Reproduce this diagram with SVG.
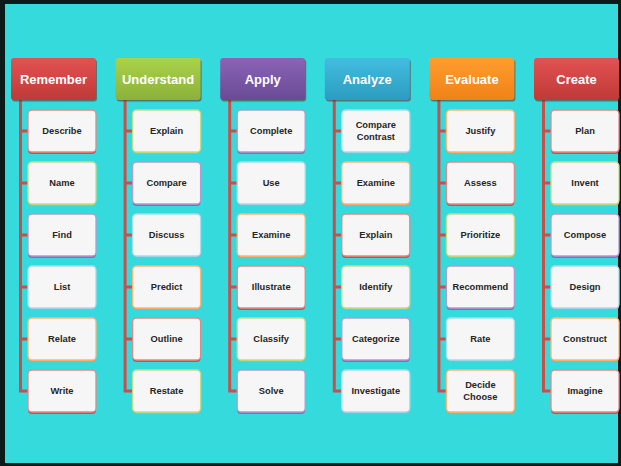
<svg xmlns="http://www.w3.org/2000/svg" width="621" height="466" viewBox="0 0 621 466">
<defs>
<linearGradient id="gRed" x1="0" y1="0" x2="0" y2="1"><stop offset="0" stop-color="#e25252"/><stop offset="1" stop-color="#bf3a37"/></linearGradient>
<linearGradient id="gGreen" x1="0" y1="0" x2="0" y2="1"><stop offset="0" stop-color="#a9d24a"/><stop offset="1" stop-color="#8cb13a"/></linearGradient>
<linearGradient id="gPurple" x1="0" y1="0" x2="0" y2="1"><stop offset="0" stop-color="#8a64b6"/><stop offset="1" stop-color="#6a4a95"/></linearGradient>
<linearGradient id="gBlue" x1="0" y1="0" x2="0" y2="1"><stop offset="0" stop-color="#42bde0"/><stop offset="1" stop-color="#2c9cbf"/></linearGradient>
<linearGradient id="gOrange" x1="0" y1="0" x2="0" y2="1"><stop offset="0" stop-color="#ff9d30"/><stop offset="1" stop-color="#ef8215"/></linearGradient>
</defs>
<style>
.hd .sh{fill:#5a2a20;opacity:0.55}
.hd text{font-family:"Liberation Sans",Arial,sans-serif;font-weight:bold;font-size:13px;fill:#ffffff;text-anchor:middle}
.bx .bg{fill:#f6f6f6;stroke-width:1.3}
.bx text{font-family:"Liberation Sans",Arial,sans-serif;font-weight:bold;font-size:9.3px;fill:#262626;text-anchor:middle}
.red .sh{fill:#c9504c}.red .bg{stroke:#e08a88}
.green .sh{fill:#a6c463}.green .bg{stroke:#c3dc8c}
.purple .sh{fill:#8c6cb0}.purple .bg{stroke:#b39ad2}
.blue .sh{fill:#78bfd6}.blue .bg{stroke:#a9dbea}
.orange .sh{fill:#f7964a}.orange .bg{stroke:#fbb678}
.conn path{fill:none;stroke:#c8504b;stroke-width:3}
</style>
<rect x="0" y="0" width="621" height="466" fill="#0d1a1a"/>
<rect x="5" y="4" width="613" height="459" fill="#35dbdc"/>

<g class="conn">
<path d="M20.5 100 V391 H28 M20.5 131 H28 M20.5 183 H28 M20.5 235 H28 M20.5 287 H28 M20.5 339 H28"/>
<path d="M125.1 100 V391 H132.6 M125.1 131 H132.6 M125.1 183 H132.6 M125.1 235 H132.6 M125.1 287 H132.6 M125.1 339 H132.6"/>
<path d="M229.7 100 V391 H237.2 M229.7 131 H237.2 M229.7 183 H237.2 M229.7 235 H237.2 M229.7 287 H237.2 M229.7 339 H237.2"/>
<path d="M334.3 100 V391 H341.8 M334.3 131 H341.8 M334.3 183 H341.8 M334.3 235 H341.8 M334.3 287 H341.8 M334.3 339 H341.8"/>
<path d="M438.9 100 V391 H446.4 M438.9 131 H446.4 M438.9 183 H446.4 M438.9 235 H446.4 M438.9 287 H446.4 M438.9 339 H446.4"/>
<path d="M543.5 100 V391 H551 M543.5 131 H551 M543.5 183 H551 M543.5 235 H551 M543.5 287 H551 M543.5 339 H551"/>
</g>

<g id="h-remember" class="hd"><rect class="sh" x="12" y="59.5" width="85" height="42" rx="3"/><rect x="11" y="58" width="85" height="42" rx="3" fill="url(#gRed)"/><text x="53.5" y="83.5">Remember</text></g>
<g id="h-understand" class="hd"><rect class="sh" x="116.6" y="59.5" width="85" height="42" rx="3"/><rect x="115.6" y="58" width="85" height="42" rx="3" fill="url(#gGreen)"/><text x="158.1" y="83.5">Understand</text></g>
<g id="h-apply" class="hd"><rect class="sh" x="221.2" y="59.5" width="85" height="42" rx="3"/><rect x="220.2" y="58" width="85" height="42" rx="3" fill="url(#gPurple)"/><text x="262.7" y="83.5">Apply</text></g>
<g id="h-analyze" class="hd"><rect class="sh" x="325.8" y="59.5" width="85" height="42" rx="3"/><rect x="324.8" y="58" width="85" height="42" rx="3" fill="url(#gBlue)"/><text x="367.3" y="83.5">Analyze</text></g>
<g id="h-evaluate" class="hd"><rect class="sh" x="430.4" y="59.5" width="85" height="42" rx="3"/><rect x="429.4" y="58" width="85" height="42" rx="3" fill="url(#gOrange)"/><text x="471.9" y="83.5">Evaluate</text></g>
<g id="h-create" class="hd"><rect class="sh" x="535" y="59.5" width="85" height="42" rx="3"/><rect x="534" y="58" width="85" height="42" rx="3" fill="url(#gRed)"/><text x="576.5" y="83.5">Create</text></g>

<!-- Remember column -->
<g id="n-describe" class="bx red"><rect class="sh" x="28" y="112" width="68" height="42" rx="4"/><rect class="bg" x="28" y="110" width="68" height="42" rx="4"/><text x="62" y="134.3">Describe</text></g>
<g id="n-name" class="bx green"><rect class="sh" x="28" y="164" width="68" height="42" rx="4"/><rect class="bg" x="28" y="162" width="68" height="42" rx="4"/><text x="62" y="186.3">Name</text></g>
<g id="n-find" class="bx purple"><rect class="sh" x="28" y="216" width="68" height="42" rx="4"/><rect class="bg" x="28" y="214" width="68" height="42" rx="4"/><text x="62" y="238.3">Find</text></g>
<g id="n-list" class="bx blue"><rect class="sh" x="28" y="268" width="68" height="42" rx="4"/><rect class="bg" x="28" y="266" width="68" height="42" rx="4"/><text x="62" y="290.3">List</text></g>
<g id="n-relate" class="bx orange"><rect class="sh" x="28" y="320" width="68" height="42" rx="4"/><rect class="bg" x="28" y="318" width="68" height="42" rx="4"/><text x="62" y="342.3">Relate</text></g>
<g id="n-write" class="bx red"><rect class="sh" x="28" y="372" width="68" height="42" rx="4"/><rect class="bg" x="28" y="370" width="68" height="42" rx="4"/><text x="62" y="394.3">Write</text></g>

<!-- Understand column -->
<g id="n-explain1" class="bx green"><rect class="sh" x="132.6" y="112" width="68" height="42" rx="4"/><rect class="bg" x="132.6" y="110" width="68" height="42" rx="4"/><text x="166.6" y="134.3">Explain</text></g>
<g id="n-compare" class="bx purple"><rect class="sh" x="132.6" y="164" width="68" height="42" rx="4"/><rect class="bg" x="132.6" y="162" width="68" height="42" rx="4"/><text x="166.6" y="186.3">Compare</text></g>
<g id="n-discuss" class="bx blue"><rect class="sh" x="132.6" y="216" width="68" height="42" rx="4"/><rect class="bg" x="132.6" y="214" width="68" height="42" rx="4"/><text x="166.6" y="238.3">Discuss</text></g>
<g id="n-predict" class="bx orange"><rect class="sh" x="132.6" y="268" width="68" height="42" rx="4"/><rect class="bg" x="132.6" y="266" width="68" height="42" rx="4"/><text x="166.6" y="290.3">Predict</text></g>
<g id="n-outline" class="bx red"><rect class="sh" x="132.6" y="320" width="68" height="42" rx="4"/><rect class="bg" x="132.6" y="318" width="68" height="42" rx="4"/><text x="166.6" y="342.3">Outline</text></g>
<g id="n-restate" class="bx green"><rect class="sh" x="132.6" y="372" width="68" height="42" rx="4"/><rect class="bg" x="132.6" y="370" width="68" height="42" rx="4"/><text x="166.6" y="394.3">Restate</text></g>

<!-- Apply column -->
<g id="n-complete" class="bx purple"><rect class="sh" x="237.2" y="112" width="68" height="42" rx="4"/><rect class="bg" x="237.2" y="110" width="68" height="42" rx="4"/><text x="271.2" y="134.3">Complete</text></g>
<g id="n-use" class="bx blue"><rect class="sh" x="237.2" y="164" width="68" height="42" rx="4"/><rect class="bg" x="237.2" y="162" width="68" height="42" rx="4"/><text x="271.2" y="186.3">Use</text></g>
<g id="n-examine1" class="bx orange"><rect class="sh" x="237.2" y="216" width="68" height="42" rx="4"/><rect class="bg" x="237.2" y="214" width="68" height="42" rx="4"/><text x="271.2" y="238.3">Examine</text></g>
<g id="n-illustrate" class="bx red"><rect class="sh" x="237.2" y="268" width="68" height="42" rx="4"/><rect class="bg" x="237.2" y="266" width="68" height="42" rx="4"/><text x="271.2" y="290.3">Illustrate</text></g>
<g id="n-classify" class="bx green"><rect class="sh" x="237.2" y="320" width="68" height="42" rx="4"/><rect class="bg" x="237.2" y="318" width="68" height="42" rx="4"/><text x="271.2" y="342.3">Classify</text></g>
<g id="n-solve" class="bx purple"><rect class="sh" x="237.2" y="372" width="68" height="42" rx="4"/><rect class="bg" x="237.2" y="370" width="68" height="42" rx="4"/><text x="271.2" y="394.3">Solve</text></g>

<!-- Analyze column -->
<g id="n-comparecontrast" class="bx blue"><rect class="sh" x="341.8" y="112" width="68" height="42" rx="4"/><rect class="bg" x="341.8" y="110" width="68" height="42" rx="4"/><text x="375.8" y="128.3">Compare</text><text x="375.8" y="140.3">Contrast</text></g>
<g id="n-examine2" class="bx orange"><rect class="sh" x="341.8" y="164" width="68" height="42" rx="4"/><rect class="bg" x="341.8" y="162" width="68" height="42" rx="4"/><text x="375.8" y="186.3">Examine</text></g>
<g id="n-explain2" class="bx red"><rect class="sh" x="341.8" y="216" width="68" height="42" rx="4"/><rect class="bg" x="341.8" y="214" width="68" height="42" rx="4"/><text x="375.8" y="238.3">Explain</text></g>
<g id="n-identify" class="bx green"><rect class="sh" x="341.8" y="268" width="68" height="42" rx="4"/><rect class="bg" x="341.8" y="266" width="68" height="42" rx="4"/><text x="375.8" y="290.3">Identify</text></g>
<g id="n-categorize" class="bx purple"><rect class="sh" x="341.8" y="320" width="68" height="42" rx="4"/><rect class="bg" x="341.8" y="318" width="68" height="42" rx="4"/><text x="375.8" y="342.3">Categorize</text></g>
<g id="n-investigate" class="bx blue"><rect class="sh" x="341.8" y="372" width="68" height="42" rx="4"/><rect class="bg" x="341.8" y="370" width="68" height="42" rx="4"/><text x="375.8" y="394.3">Investigate</text></g>

<!-- Evaluate column -->
<g id="n-justify" class="bx orange"><rect class="sh" x="446.4" y="112" width="68" height="42" rx="4"/><rect class="bg" x="446.4" y="110" width="68" height="42" rx="4"/><text x="480.4" y="134.3">Justify</text></g>
<g id="n-assess" class="bx red"><rect class="sh" x="446.4" y="164" width="68" height="42" rx="4"/><rect class="bg" x="446.4" y="162" width="68" height="42" rx="4"/><text x="480.4" y="186.3">Assess</text></g>
<g id="n-prioritize" class="bx green"><rect class="sh" x="446.4" y="216" width="68" height="42" rx="4"/><rect class="bg" x="446.4" y="214" width="68" height="42" rx="4"/><text x="480.4" y="238.3">Prioritize</text></g>
<g id="n-recommend" class="bx purple"><rect class="sh" x="446.4" y="268" width="68" height="42" rx="4"/><rect class="bg" x="446.4" y="266" width="68" height="42" rx="4"/><text x="480.4" y="290.3">Recommend</text></g>
<g id="n-rate" class="bx blue"><rect class="sh" x="446.4" y="320" width="68" height="42" rx="4"/><rect class="bg" x="446.4" y="318" width="68" height="42" rx="4"/><text x="480.4" y="342.3">Rate</text></g>
<g id="n-decidechoose" class="bx orange"><rect class="sh" x="446.4" y="372" width="68" height="42" rx="4"/><rect class="bg" x="446.4" y="370" width="68" height="42" rx="4"/><text x="480.4" y="388.3">Decide</text><text x="480.4" y="400.3">Choose</text></g>

<!-- Create column -->
<g id="n-plan" class="bx red"><rect class="sh" x="551" y="112" width="68" height="42" rx="4"/><rect class="bg" x="551" y="110" width="68" height="42" rx="4"/><text x="585" y="134.3">Plan</text></g>
<g id="n-invent" class="bx green"><rect class="sh" x="551" y="164" width="68" height="42" rx="4"/><rect class="bg" x="551" y="162" width="68" height="42" rx="4"/><text x="585" y="186.3">Invent</text></g>
<g id="n-compose" class="bx purple"><rect class="sh" x="551" y="216" width="68" height="42" rx="4"/><rect class="bg" x="551" y="214" width="68" height="42" rx="4"/><text x="585" y="238.3">Compose</text></g>
<g id="n-design" class="bx blue"><rect class="sh" x="551" y="268" width="68" height="42" rx="4"/><rect class="bg" x="551" y="266" width="68" height="42" rx="4"/><text x="585" y="290.3">Design</text></g>
<g id="n-construct" class="bx orange"><rect class="sh" x="551" y="320" width="68" height="42" rx="4"/><rect class="bg" x="551" y="318" width="68" height="42" rx="4"/><text x="585" y="342.3">Construct</text></g>
<g id="n-imagine" class="bx red"><rect class="sh" x="551" y="372" width="68" height="42" rx="4"/><rect class="bg" x="551" y="370" width="68" height="42" rx="4"/><text x="585" y="394.3">Imagine</text></g>
</svg>
